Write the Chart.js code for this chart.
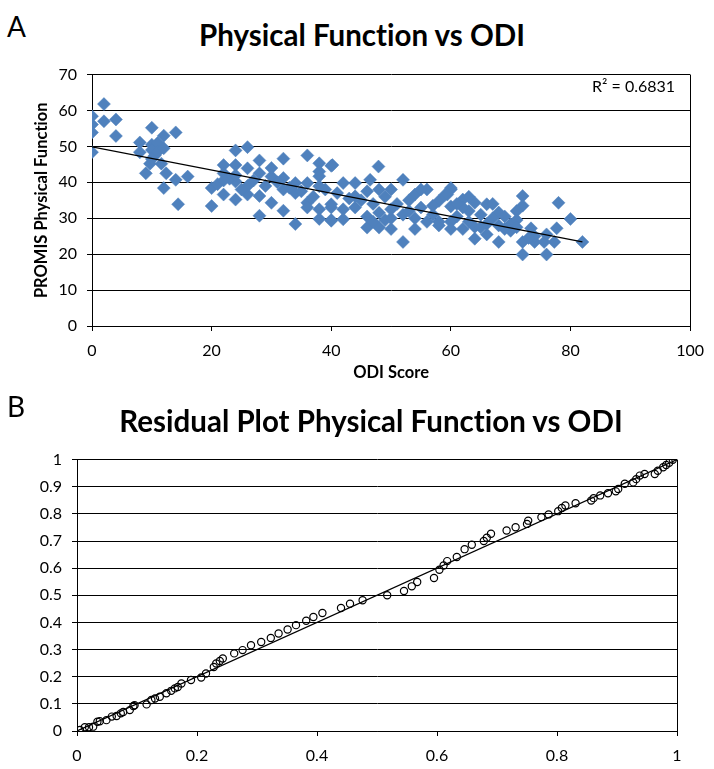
<!DOCTYPE html>
<html lang="en">
<head>
    <meta charset="UTF-8">
    <title>Physical Function vs ODI</title>
    <script src="https://cdn.jsdelivr.net/npm/chart.js"></script>
    <style>
        body {
            margin: 0;
            background: #fff;
            font-family: Lato, sans-serif;
            font-variant-ligatures: none;
        }

        #page {
            position: relative;
            width: 714px;
            height: 769px;
            overflow: hidden;
        }

        .panel {
            position: absolute;
            left: 7px;
            font-size: 28px;
            line-height: 28px;
            color: #000;
        }

        .title {
            position: absolute;
            width: 714px;
            text-align: center;
            font-weight: bold;
            font-size: 29.5px;
            line-height: 32px;
            color: #000;
        }

        canvas {
            position: absolute;
            left: 0;
        }
    </style>
</head>

<body>
    <div id="page">
        <div class="panel" style="top:12px">A</div>
        <div class="title" style="top:19px; left:5px">Physical Function vs ODI</div>
        <canvas id="chartA" width="714" height="340" style="top:55px"></canvas>

        <div class="panel" style="top:392px">B</div>
        <div class="title" style="top:405px; left:14px">Residual Plot Physical Function vs ODI</div>
        <canvas id="chartB" width="714" height="329" style="top:440px"></canvas>
    </div>

    <script>
        // panel A: ODI score vs PROMIS physical function
        const odiScore = [
            0, 0, 0, 0, 2, 2, 4, 4,
            8, 8, 9, 10, 10, 10, 10.5, 11, 11, 12, 9.7, 11.6, 12.4, 14, 14, 16, 12, 14.4, 10, 12,
            24, 26, 22, 22, 24, 28, 32, 36, 26, 28, 30, 32, 34, 36, 38, 38, 40, 20, 20, 22, 24, 24,
            26, 26, 28, 28, 30, 32, 34, 32, 34, 36, 36, 38, 38, 40, 40, 21, 23, 25, 27, 29,
            31, 33, 35, 37, 39, 30, 22, 24,
            40.2, 47.9, 42, 44, 46.5, 48, 50, 52, 54, 56, 58, 60, 40, 40, 42, 42, 46, 46, 48, 50,
            52, 54, 38, 38, 44, 45, 47, 49, 51, 53, 55, 57, 48, 50, 52, 54, 56, 58, 60, 44,
            46, 50, 47, 55, 53, 49, 43, 41, 59, 57,
            78, 80, 82, 72, 72, 71, 72, 76, 77.7, 77.3, 74, 75.6, 73.4, 72, 68, 68, 66, 66, 64, 64,
            64, 62, 62, 60, 59.4, 60, 60, 58, 70, 71, 69, 67, 65, 63, 61, 63, 65, 62, 70, 74,
            76, 66, 68, 61, 63, 67, 69, 71, 73
        ];
        const promisPF = [
            58.4, 56.1, 53.9, 48.4, 61.8, 57, 57.5, 52.9,
            51.1, 48.4, 42.5, 55.2, 50.5, 49, 47.5, 51, 48.5, 53, 45.2, 45.2, 42.5, 53.9, 40.7, 41.6, 38.4, 33.9, 46.5, 49.5,
            48.9, 49.8, 44.8, 42.5, 44.8, 46.1, 46.6, 47.5, 43.9, 42.5, 41.6, 41.2, 39.8, 39.8, 45.3, 43, 44.6, 38.4, 33.4, 36.6, 35.2, 40.2,
            36.6, 39, 36.2, 30.7, 34.3, 32.1, 28.4, 38, 37, 34.3, 33, 32.5, 29.8, 33, 29.5, 39.5, 41, 38, 40.5, 39,
            40, 38.5, 37.5, 36, 38, 44, 40.5, 42,
            44.8, 44.4, 39.8, 39.8, 40.7, 38, 38, 40.7, 36.6, 38, 34.8, 38, 33.9, 29.3, 32.5, 29.7, 30.5, 27.4, 27.4, 27,
            23.4, 27, 41.7, 38.9, 36.1, 35, 34, 36, 34, 35, 33, 31, 31.5, 30, 31, 30, 29, 28, 29, 33,
            37.5, 32.5, 29, 38, 32, 29.5, 35.5, 37, 36.5, 33.5,
            34.3, 29.8, 23.4, 36.2, 33.5, 32, 19.9, 19.9, 27.2, 23.4, 23.4, 23.4, 27.2, 23.4, 31.6, 23.4, 33.9, 28.4, 34.3, 24.3,
            27.6, 35.2, 27, 38.4, 36.6, 33.3, 27, 29, 28.4, 29.5, 30.5, 30, 31, 32, 30.5, 29, 27.5, 33, 26.5, 25,
            25.5, 25.5, 28, 34, 36, 34, 27, 27.5, 24.5
        ];
        const trendX = [0, 82];
        const trendY = [49.9, 23.4];
        const xTicksA = [0, 20, 40, 60, 80, 100];
        const yTicksA = [0, 10, 20, 30, 40, 50, 60, 70];

        // panel B: residual probability plot
        const resX = [
            0.005, 0.013, 0.02, 0.027, 0.034, 0.038, 0.049, 0.058, 0.066, 0.073, 0.077, 0.088, 0.094, 0.096,
            0.116, 0.124, 0.13, 0.138, 0.149, 0.157, 0.163, 0.168, 0.174, 0.19, 0.207, 0.215, 0.228, 0.232,
            0.238, 0.243, 0.262, 0.276, 0.29, 0.307, 0.323, 0.336, 0.351, 0.365, 0.382, 0.394, 0.409, 0.44,
            0.455, 0.476, 0.517, 0.545, 0.558, 0.567, 0.595, 0.604, 0.611, 0.617, 0.633, 0.646, 0.658, 0.678,
            0.683, 0.69, 0.716, 0.731, 0.75, 0.752, 0.774, 0.786, 0.802, 0.808, 0.814, 0.831, 0.857, 0.861,
            0.872, 0.885, 0.898, 0.902, 0.913, 0.927, 0.932, 0.938, 0.946, 0.963, 0.968, 0.977, 0.982, 0.987, 0.993
        ];
        const resY = [
            0.004, 0.014, 0.014, 0.016, 0.034, 0.036, 0.04, 0.053, 0.055, 0.065, 0.07, 0.077, 0.092, 0.095,
            0.098, 0.114, 0.12, 0.126, 0.139, 0.148, 0.157, 0.162, 0.175, 0.188, 0.197, 0.212, 0.236, 0.249,
            0.258, 0.267, 0.286, 0.298, 0.316, 0.328, 0.343, 0.359, 0.374, 0.39, 0.406, 0.42, 0.435, 0.453,
            0.469, 0.482, 0.5, 0.516, 0.533, 0.549, 0.564, 0.594, 0.61, 0.626, 0.641, 0.67, 0.686, 0.7,
            0.712, 0.727, 0.739, 0.751, 0.763, 0.775, 0.788, 0.798, 0.81, 0.822, 0.831, 0.839, 0.849, 0.858,
            0.868, 0.876, 0.883, 0.892, 0.911, 0.916, 0.928, 0.941, 0.947, 0.947, 0.959, 0.972, 0.98, 0.988, 0.999
        ];
        const refX = [0, 1];
        const refY = [0, 1];
        const xTicksB = [0, 0.2, 0.4, 0.6, 0.8, 1];
        const xLabelsB = ['0', '0.2', '0.4', '0.6', '0.8', '1'];
        const yTicksB = [0, 0.1, 0.2, 0.3, 0.4, 0.5, 0.6, 0.7, 0.8, 0.9, 1];
        const yLabelsB = ['0', '0.1', '0.2', '0.3', '0.4', '0.5', '0.6', '0.7', '0.8', '0.9', '1'];

        const toPoints = (xs, ys) => xs.map((x, i) => ({ x: x, y: ys[i] }));
        const tickFont = { family: 'Lato', size: 16 };
        const axisTitleFont = { family: 'Lato', size: 16.5, weight: 'bold' };

        // no "ct" ligature on canvas text
        const plainText = {
            id: 'plainText',
            beforeDraw(chart) { chart.ctx.textRendering = 'optimizeSpeed'; }
        };

        // R² text in the top right corner of panel A
        const r2Label = {
            id: 'r2Label',
            afterDatasetsDraw(chart) {
                const { ctx, chartArea } = chart;
                ctx.save();
                ctx.font = '16px Lato';
                ctx.fillStyle = '#000';
                ctx.textAlign = 'right';
                ctx.textBaseline = 'middle';
                ctx.fillText('R\u00B2 = 0.6831', chartArea.right - 15, chartArea.top + 12);
                ctx.restore();
            }
        };

        // only the last vertical line is drawn (right edge of the box)
        const edgeOnly = last => ctx => (ctx.tick && ctx.tick.value === last ? '#000' : 'rgba(0,0,0,0)');

        new Chart(document.getElementById('chartA'), {
            type: 'scatter',
            data: {
                datasets: [{
                    type: 'line',
                    data: toPoints(trendX, trendY),
                    borderColor: '#000',
                    borderWidth: 1.3,
                    pointRadius: 0,
                    fill: false
                }, {
                    data: toPoints(odiScore, promisPF),
                    pointStyle: 'rectRot',
                    pointRadius: 6.5,
                    backgroundColor: '#4F81BD',
                    borderColor: '#4F81BD',
                    borderWidth: 0.5
                }]
            },
            options: {
                responsive: false,
                animation: false,
                layout: { padding: { top: 14, right: 21, left: 0, bottom: 0 } },
                plugins: {
                    legend: { display: false },
                    tooltip: { enabled: false }
                },
                scales: {
                    x: {
                        type: 'linear',
                        min: 0,
                        max: 100,
                        afterBuildTicks: s => { s.ticks = xTicksA.map(v => ({ value: v })); },
                        afterFit: s => { s.height = 69; },
                        grid: { color: edgeOnly(100), tickColor: '#000', tickLength: 5, lineWidth: 1 },
                        border: { color: '#000', width: 1 },
                        ticks: { color: '#000', font: tickFont, padding: 10, maxRotation: 0 },
                        title: {
                            display: true,
                            text: 'ODI Score',
                            color: '#000',
                            font: axisTitleFont,
                            padding: { top: 0, bottom: 12 }
                        }
                    },
                    y: {
                        min: 0,
                        max: 70,
                        afterBuildTicks: s => { s.ticks = yTicksA.map(v => ({ value: v })); },
                        afterFit: s => { s.width = 92; },
                        grid: { color: '#000', tickColor: '#000', tickLength: 5, lineWidth: 1 },
                        border: { color: '#000', width: 1 },
                        ticks: { color: '#000', font: tickFont, padding: 10 },
                        title: {
                            display: true,
                            text: 'PROMIS Physical Function',
                            color: '#000',
                            font: axisTitleFont,
                            padding: { top: 32, bottom: 0 }
                        }
                    }
                }
            },
            plugins: [plainText, r2Label]
        });

        new Chart(document.getElementById('chartB'), {
            type: 'scatter',
            data: {
                datasets: [{
                    type: 'line',
                    data: toPoints(refX, refY),
                    borderColor: '#000',
                    borderWidth: 1.2,
                    pointRadius: 0,
                    fill: false
                }, {
                    data: toPoints(resX, resY),
                    pointStyle: 'circle',
                    pointRadius: 3.6,
                    backgroundColor: 'rgba(0,0,0,0)',
                    borderColor: '#000',
                    borderWidth: 1.2
                }]
            },
            options: {
                responsive: false,
                animation: false,
                layout: { padding: { top: 19, right: 37, left: 0, bottom: 0 } },
                plugins: {
                    legend: { display: false },
                    tooltip: { enabled: false }
                },
                scales: {
                    x: {
                        type: 'linear',
                        min: 0,
                        max: 1,
                        afterBuildTicks: s => { s.ticks = xTicksB.map(v => ({ value: v })); },
                        afterFit: s => { s.height = 38; },
                        grid: { color: edgeOnly(1), tickColor: '#000', tickLength: 5, lineWidth: 1 },
                        border: { color: '#000', width: 1 },
                        ticks: {
                            color: '#000', font: tickFont, padding: 10, maxRotation: 0,
                            callback: (v, i) => xLabelsB[i]
                        }
                    },
                    y: {
                        min: 0,
                        max: 1,
                        afterBuildTicks: s => { s.ticks = yTicksB.map(v => ({ value: v })); },
                        afterFit: s => { s.width = 77; },
                        grid: { color: '#000', tickColor: '#000', tickLength: 5, lineWidth: 1 },
                        border: { color: '#000', width: 1 },
                        ticks: {
                            color: '#000', font: tickFont, padding: 10,
                            callback: (v, i) => yLabelsB[i]
                        }
                    }
                }
            },
            plugins: [plainText]
        });
    </script>
</body>

</html>
